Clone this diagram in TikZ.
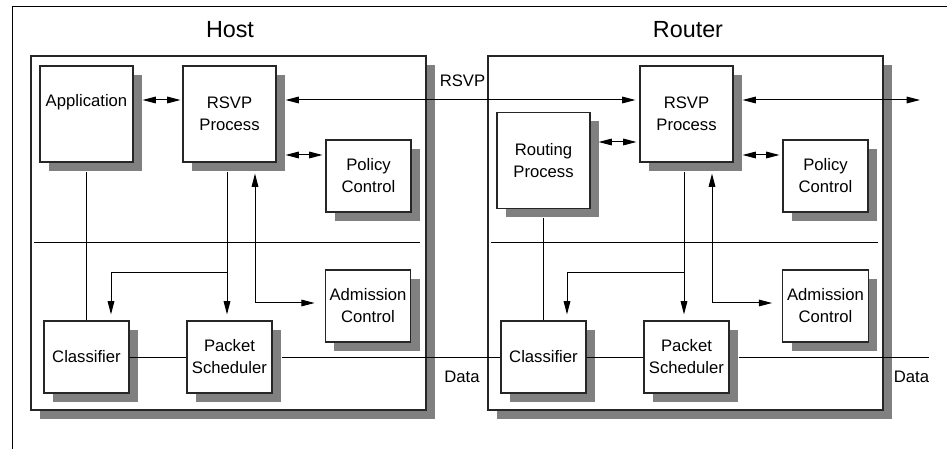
\documentclass[tikz,border=0pt]{standalone}
\usepackage{fontspec}
\setmainfont{Liberation Sans}
\usetikzlibrary{arrows.meta, positioning, calc, shadows}

\begin{document}
\begin{tikzpicture}[
  x=0.75pt, y=-0.75pt,
  font=\fontsize{12.5}{16.5}\selectfont,
  >={Triangle[length=10pt,width=5pt]},
  line width=0.75pt,
  box/.style={
    rectangle, draw=black!85, line width=0.8pt, fill=white, align=center,
    drop shadow={shadow xshift=6.75pt, shadow yshift=-6.75pt, fill=black!50, opacity=1}
  },
  bigbox/.style={box, minimum width=69.75pt, minimum height=72pt},
  smallbox/.style={box, minimum width=63.75pt, minimum height=54pt},
  unitbox/.style={box, minimum width=296.25pt, minimum height=265.5pt},
  heading/.style={font=\fontsize{17.5}{21}\selectfont},
  datalabel/.style={inner sep=0pt}
]
\useasboundingbox (0,0) rectangle (947,449);

% Page frame
\draw (947,7) -- (12,7) -- (12,449);

% Host and router
\node[unitbox] (host) at (228.5,233) {};
\node[unitbox] (router) at (685.5,233) {};
\node[heading] (hostname) at (230,30) {Host};
\node[heading] (routername) at (688,30) {Router};

% Host blocks
\node[bigbox, text depth=21pt] (app) at (86.5,114) {Application};
\node[bigbox] (hrsvp) at (229.5,114) {RSVP\\Process};
\node[smallbox] (hpol) at (368.5,176) {Policy\\Control};
\node[smallbox] (hadm) at (368,306) {Admission\\Control};
\node[smallbox] (hcls) at (86.5,357) {Classifier};
\node[smallbox] (hps) at (229.5,357) {Packet\\Scheduler};

% Router blocks
\node[bigbox] (rrout) at (543.5,160.5) {Routing\\Process};
\node[bigbox] (rrsvp) at (686.5,114) {RSVP\\Process};
\node[smallbox] (rpol) at (825.5,176) {Policy\\Control};
\node[smallbox] (radm) at (825.5,306) {Admission\\Control};
\node[smallbox] (rcls) at (543.5,357) {Classifier};
\node[smallbox] (rps) at (686.5,357) {Packet\\Scheduler};

% Control / data plane separators
\draw ([xshift=3pt]host.west |- 0,243) -- ([xshift=-5.25pt]host.east |- 0,243);
\draw ([xshift=3pt]router.west |- 0,243) -- ([xshift=-4.5pt]router.east |- 0,243);

% RSVP messages
\coordinate (rsvpout) at (920,100);
\draw[<->] ([shift={(9,-14)}]app.east) -- ([shift={(-2,-14)}]hrsvp.west);
\draw[<->] ([shift={(9,-14)}]hrsvp.east) -- ([shift={(-4,-14)}]rrsvp.west);
\draw[<->] ([shift={(9,-14)}]rrsvp.east) -- (rsvpout);
\node[datalabel] (rsvptag) at (462.5,81) {RSVP};

% Policy and routing
\draw[<->] ([shift={(9,41)}]hrsvp.east) -- ([shift={(-3,-21)}]hpol.west);
\draw[<->] ([shift={(9,41)}]rrsvp.east) -- ([shift={(-3,-21)}]rpol.west);
\draw[<->] ([shift={(8,-18.5)}]rrout.east) -- ([shift={(-3,28)}]rrsvp.west);

% Host control paths
\draw ([yshift=-6.75pt]app.south) -- (hcls.north);
\draw[->] ([shift={(-2.5,9)}]hrsvp.south) -- ([shift={(-2.5,-6)}]hps.north);
\draw[->] ([shift={(-2.5,110)}]hrsvp.south) -| ([shift={(24.5,-6)}]hcls.north);
\draw[<->] ([shift={(25.5,11)}]hrsvp.south) |- ([shift={(-10,-3)}]hadm.west);

% Router control paths
\draw ([yshift=-6.75pt]rrout.south) -- (rcls.north);
\draw[->] ([shift={(-2.5,9)}]rrsvp.south) -- ([shift={(-2.5,-6)}]rps.north);
\draw[->] ([shift={(-2.5,110)}]rrsvp.south) -| ([shift={(23.5,-6)}]rcls.north);
\draw[<->] ([shift={(25.5,11)}]rrsvp.south) |- ([shift={(-10,-3)}]radm.west);

% Data path
\coordinate (dataout) at (929,357);
\draw (hcls.east) -- (hps.west);
\draw ([xshift=6.75pt]hps.east) -- (rcls.west);
\draw (rcls.east) -- (rps.west);
\draw ([xshift=6.75pt]rps.east) -- (dataout);
\node[datalabel] (hdata) at (462,377) {Data};
\node[datalabel] (rdata) at (911.5,377) {Data};

\end{tikzpicture}
\end{document}
